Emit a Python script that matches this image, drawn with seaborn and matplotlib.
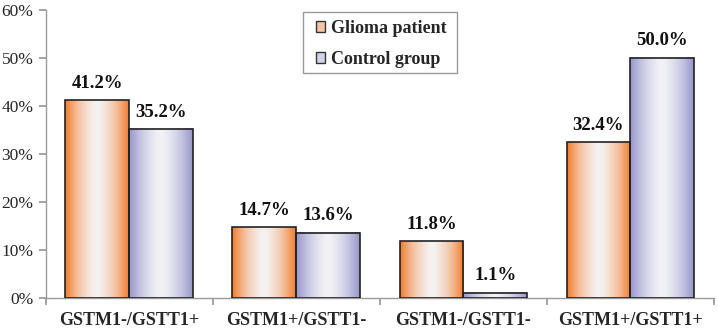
import numpy as np
import pandas as pd
import matplotlib
matplotlib.use("Agg")
import matplotlib.pyplot as plt
import seaborn as sns
from matplotlib.colors import LinearSegmentedColormap
from matplotlib.patches import Patch, Rectangle

categories = ["GSTM1-/GSTT1+", "GSTM1+/GSTT1-", "GSTM1-/GSTT1-", "GSTM1+/GSTT1+"]
glioma = [41.2, 14.7, 11.8, 32.4]
control = [35.2, 13.6, 1.1, 50.0]
series = ["Glioma patient", "Control group"]
yticks = [0, 10, 20, 30, 40, 50, 60]

df = pd.DataFrame({
    "cat": categories * 2,
    "val": glioma + control,
    "grp": [series[0]] * 4 + [series[1]] * 4,
})

sns.set_theme(style="white")
plt.rcParams["font.family"] = ["Liberation Serif", "DejaVu Serif"]

fig = plt.figure(figsize=(7.18, 3.28), dpi=100)
ax = fig.add_axes([0.064, 0.0915, 0.9304, 0.879])

edge_colors = {series[0]: "#F07C2C", series[1]: "#9696CA"}
sns.barplot(data=df, x="cat", y="val", hue="grp", hue_order=series,
            order=categories, palette=edge_colors, width=0.766,
            ax=ax, legend=False, saturation=1)

ax.set_ylim(0, 60)
ax.set_xlim(-0.5, 3.5)
ax.set_yticks(yticks)
ax.set_yticklabels([f"{t}%" for t in yticks], fontsize=12.5)
ax.set_xlabel("")
ax.set_ylabel("")
ax.set_xticks([-0.5, 0.5, 1.5, 2.5, 3.5], minor=False)
ax.set_xticklabels([])
ax.set_xticks([0, 1, 2, 3], minor=True)
ax.set_xticklabels(categories, minor=True, fontsize=13, fontweight="bold")
ax.tick_params(axis="x", which="minor", length=0, pad=10, bottom=False)
ax.tick_params(axis="x", which="major", length=5, color="#999999", direction="out", bottom=True)
ax.tick_params(axis="y", length=5, color="#999999", direction="out", pad=4, left=True)
for s in ["top", "right"]:
    ax.spines[s].set_visible(False)
for s in ["left", "bottom"]:
    ax.spines[s].set_color("#999999")
    ax.spines[s].set_linewidth(1.0)

# gradient fill
grad = np.abs(np.linspace(-1, 1, 256)) ** 1.4
grad = grad.reshape(1, -1)
cmaps = {
    series[0]: LinearSegmentedColormap.from_list("o", ["#F4F3F2", "#F5BE9C", "#F07C2C"]),
    series[1]: LinearSegmentedColormap.from_list("p", ["#F3F3F6", "#C8C8E4", "#9696CA"]),
}
patches = [p for p in ax.patches if p.get_height() > 0]
for i, p in enumerate(patches):
    grp = series[0] if i < 4 else series[1]
    x0, y0 = p.get_x(), p.get_y()
    w, h = p.get_width(), p.get_height()
    ax.imshow(grad, cmap=cmaps[grp], aspect="auto",
              extent=[x0, x0 + w, y0, y0 + h], zorder=2,
              interpolation="bicubic")
    p.set_facecolor("none")
    p.set_edgecolor("#222222")
    p.set_linewidth(1.2)
    p.set_zorder(3)
    ax.annotate(f"{h:.1f}%", (x0 + w / 2, y0 + h), xytext=(0, 6),
                textcoords="offset points", ha="center", va="bottom",
                fontsize=13.5, fontweight="bold", color="#111111")
ax.set_xlim(-0.5, 3.5)
ax.set_ylim(0, 60)

handles = [
    Patch(facecolor="#F5C4A6", edgecolor="#333333", label=series[0]),
    Patch(facecolor="#D2D2EA", edgecolor="#333333", label=series[1]),
]
leg = ax.legend(handles=handles, loc="center", bbox_to_anchor=(381 / 718, 1 - 44 / 328),
                bbox_transform=fig.transFigure,
                frameon=False, handlelength=0.55, handleheight=0.55, handletextpad=0.3,
                labelspacing=0.8, borderpad=0.3, borderaxespad=0,
                prop={"weight": "bold", "size": 13})
fig.add_artist(Rectangle((303 / 718, 1 - 73 / 328), 154 / 718, 61 / 328,
                         transform=fig.transFigure, facecolor="white",
                         edgecolor="#999999", linewidth=1.0, zorder=4))
leg.set_zorder(5)
fig.artists[-1].set_zorder(1)
ax.set_zorder(2)
ax.patch.set_alpha(0)

fig.savefig("out.png", dpi=100)
